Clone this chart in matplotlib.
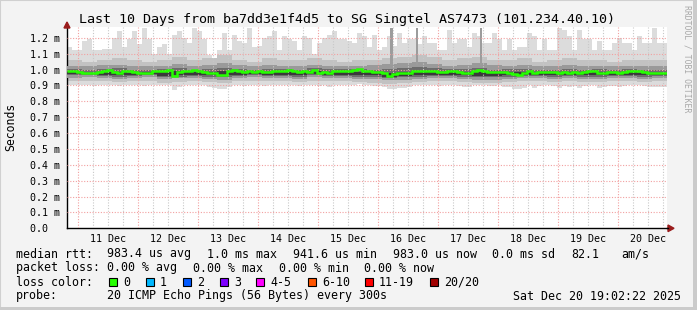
#!/usr/bin/env python
"""SmokePing style 10 day latency graph."""

# Third party modules.
import numpy as np
import matplotlib
matplotlib.use("Agg")
import matplotlib.pyplot as plt
from matplotlib.patches import Polygon, Rectangle
from matplotlib.lines import Line2D

# Globals and constants variables.
W, H = 697, 310
T0 = 19.48  # hours since 10 Dec 00:00 at left edge

title = "Last 10 Days from ba7dd3e1f4d5 to SG Singtel AS7473 (101.234.40.10)"
dayLabels = ["11 Dec", "12 Dec", "13 Dec", "14 Dec", "15 Dec",
             "16 Dec", "17 Dec", "18 Dec", "19 Dec", "20 Dec"]
yTicks = [0.0, 0.1, 0.2, 0.3, 0.4, 0.5, 0.6, 0.7, 0.8, 0.9, 1.0, 1.1, 1.2]

# median rtt in ms, one value every 2 hours
median_ms = [
    0.99, 0.99, 0.985, 0.98, 0.98, 0.975, 0.985, 0.99, 1.0, 0.985, 0.975, 0.99,
    0.99, 0.985, 0.98, 0.98, 0.98, 0.99, 0.99, 0.99, 0.995, 0.96, 0.985, 0.99,
    0.99, 1.0, 0.99, 0.985, 0.98, 0.975, 0.965, 0.965, 0.99, 0.995, 0.99, 0.985,
    0.99, 0.985, 0.99, 0.985, 0.985, 0.99, 0.99, 0.99, 1.0, 0.99, 0.985, 0.99,
    0.985, 1.0, 0.98, 0.985, 0.98, 0.99, 0.99, 0.99, 0.99, 0.995, 1.005, 0.99,
    0.99, 0.985, 0.985, 0.98, 0.96, 0.97, 0.975, 0.975, 0.98, 0.99, 0.99, 0.99,
    0.99, 0.99, 0.985, 0.985, 0.99, 0.99, 0.985, 0.98, 0.98, 0.99, 1.0, 0.99,
    0.985, 0.985, 0.985, 0.985, 0.98, 0.97, 0.965, 0.975, 0.99, 0.975, 0.985, 0.985,
    0.985, 0.985, 0.975, 0.985, 0.98, 0.985, 0.975, 0.985, 0.99, 0.99, 0.975, 0.98,
    0.985, 0.985, 0.98, 0.985, 0.99, 0.99, 0.99, 0.985, 0.98, 0.98, 0.98, 0.98,
]

# highest ping of each 2 hour step
max_ms = [
    1.14, 1.12, 1.12, 1.18, 1.19, 1.12, 1.12, 1.13, 1.13, 1.20, 1.24, 1.14,
    1.19, 1.24, 1.16, 1.26, 1.19, 1.10, 1.14, 1.16, 1.10, 1.22, 1.24, 1.20,
    1.17, 1.26, 1.24, 1.19, 1.09, 1.07, 1.12, 1.23, 1.12, 1.22, 1.18, 1.17,
    1.26, 1.14, 1.15, 1.20, 1.21, 1.24, 1.12, 1.21, 1.19, 1.18, 1.12, 1.21,
    1.20, 1.10, 1.17, 1.20, 1.22, 1.24, 1.19, 1.19, 1.18, 1.165, 1.23, 1.21,
    1.14, 1.22, 1.12, 1.14, 1.21, 1.15, 1.23, 1.17, 1.19, 1.19, 1.16, 1.21,
    1.17, 1.17, 1.12, 1.12, 1.25, 1.17, 1.19, 1.19, 1.14, 1.23, 1.21, 1.17,
    1.17, 1.23, 1.19, 1.12, 1.19, 1.12, 1.14, 1.14, 1.23, 1.21, 1.12, 1.19,
    1.12, 1.12, 1.26, 1.25, 1.21, 1.12, 1.25, 1.19, 1.19, 1.12, 1.18, 1.12,
    1.12, 1.17, 1.20, 1.17, 1.17, 1.12, 1.21, 1.17, 1.17, 1.26, 1.17, 1.17,
]

# lowest ping of each 2 hour step
min_ms = [
    0.905, 0.90, 0.905, 0.90, 0.90, 0.895, 0.90, 0.905, 0.90, 0.90, 0.895, 0.90,
    0.90, 0.905, 0.90, 0.895, 0.90, 0.905, 0.905, 0.90, 0.90, 0.87, 0.89, 0.90,
    0.905, 0.90, 0.905, 0.90, 0.89, 0.885, 0.88, 0.88, 0.89, 0.905, 0.90, 0.895,
    0.90, 0.90, 0.905, 0.895, 0.90, 0.90, 0.905, 0.90, 0.905, 0.90, 0.895, 0.90,
    0.90, 0.905, 0.895, 0.90, 0.89, 0.90, 0.905, 0.905, 0.90, 0.905, 0.91, 0.90,
    0.90, 0.895, 0.895, 0.89, 0.875, 0.88, 0.885, 0.885, 0.89, 0.90, 0.90, 0.905,
    0.905, 0.90, 0.895, 0.90, 0.90, 0.905, 0.895, 0.89, 0.89, 0.90, 0.905, 0.90,
    0.895, 0.895, 0.90, 0.89, 0.89, 0.88, 0.875, 0.885, 0.90, 0.885, 0.895, 0.90,
    0.90, 0.895, 0.885, 0.895, 0.89, 0.895, 0.885, 0.895, 0.90, 0.90, 0.885, 0.89,
    0.895, 0.895, 0.89, 0.895, 0.90, 0.90, 0.90, 0.895, 0.89, 0.89, 0.89, 0.89,
]

# inner smoke bands, one value every 6 hours
hi2_ms = [1.06, 1.05, 1.06, 1.07, 1.06, 1.05, 1.06, 1.08, 1.06, 1.07,
          1.09, 1.06, 1.05, 1.07, 1.06, 1.06, 1.07, 1.06, 1.05, 1.06,
          1.06, 1.07, 1.08, 1.09, 1.08, 1.06, 1.07, 1.08, 1.06, 1.06,
          1.07, 1.05, 1.06, 1.07, 1.06, 1.06, 1.05, 1.06, 1.06, 1.06]
lo2_ms = [0.925, 0.93, 0.925, 0.92, 0.925, 0.93, 0.915, 0.92, 0.925, 0.92,
          0.915, 0.925, 0.93, 0.925, 0.925, 0.92, 0.93, 0.925, 0.925, 0.92,
          0.915, 0.91, 0.915, 0.92, 0.925, 0.925, 0.92, 0.915, 0.915, 0.92,
          0.925, 0.925, 0.92, 0.925, 0.92, 0.92, 0.925, 0.925, 0.92, 0.925]
hi3_ms = [1.025, 1.02, 1.03, 1.03, 1.02, 1.02, 1.025, 1.035, 1.02, 1.03,
          1.04, 1.03, 1.02, 1.03, 1.025, 1.02, 1.03, 1.025, 1.02, 1.025,
          1.03, 1.035, 1.04, 1.045, 1.035, 1.025, 1.03, 1.04, 1.03, 1.025,
          1.03, 1.02, 1.025, 1.03, 1.02, 1.025, 1.02, 1.025, 1.02, 1.02]
lo3_ms = [0.945, 0.95, 0.945, 0.94, 0.945, 0.95, 0.94, 0.945, 0.945, 0.94,
          0.935, 0.945, 0.95, 0.945, 0.945, 0.94, 0.95, 0.945, 0.945, 0.94,
          0.94, 0.935, 0.935, 0.94, 0.945, 0.945, 0.94, 0.935, 0.935, 0.94,
          0.945, 0.945, 0.94, 0.945, 0.94, 0.94, 0.945, 0.945, 0.94, 0.945]
hi4_ms = [1.005, 1.0, 1.005, 1.01, 1.0, 1.0, 1.005, 1.01, 1.0, 1.005,
          1.01, 1.005, 1.0, 1.005, 1.005, 1.0, 1.01, 1.005, 1.005, 1.005,
          1.0, 1.005, 1.01, 1.015, 1.01, 1.005, 1.005, 1.01, 1.0, 1.005,
          1.005, 1.0, 1.0, 1.005, 1.0, 1.005, 1.0, 1.005, 1.0, 1.0]
lo4_ms = [0.965, 0.965, 0.96, 0.955, 0.96, 0.965, 0.95, 0.955, 0.96, 0.955,
          0.955, 0.96, 0.965, 0.96, 0.96, 0.955, 0.965, 0.96, 0.96, 0.955,
          0.955, 0.945, 0.95, 0.955, 0.96, 0.96, 0.955, 0.95, 0.95, 0.955,
          0.96, 0.96, 0.955, 0.96, 0.955, 0.955, 0.96, 0.96, 0.955, 0.96]
hi5_ms = [0.985, 0.98, 0.985, 0.985, 0.98, 0.985, 0.985, 0.99, 0.985, 0.985,
          0.99, 0.985, 0.985, 0.985, 0.985, 0.985, 0.99, 0.985, 0.985, 0.985,
          0.985, 0.98, 0.985, 0.99, 0.985, 0.985, 0.985, 0.985, 0.98, 0.985,
          0.985, 0.98, 0.98, 0.985, 0.98, 0.985, 0.98, 0.985, 0.98, 0.98]
lo5_ms = [0.97, 0.97, 0.968, 0.965, 0.968, 0.97, 0.962, 0.965, 0.968, 0.965,
          0.965, 0.968, 0.97, 0.968, 0.968, 0.965, 0.97, 0.968, 0.968, 0.965,
          0.965, 0.955, 0.96, 0.965, 0.968, 0.968, 0.965, 0.96, 0.96, 0.965,
          0.968, 0.968, 0.965, 0.968, 0.965, 0.965, 0.968, 0.968, 0.965, 0.968]

# single outlier pings (hours since 10 Dec 00:00)
spikeHours = [149.3, 159.6, 185.1]
spikeTop_ms = [1.26, 1.26, 1.26]
spikeBase_ms = [1.03, 1.03, 1.03]

# legend block
statsRows = [
    [(16, "median rtt:"), (107, "983.4 us avg"), (207, "1.0 ms max"),
     (293, "941.6 us min"), (393, "983.0 us now"), (492, "0.0 ms sd"),
     (571, "82.1"), (621, "am/s")],
    [(16, "packet loss:"), (107, "0.00 % avg"), (193, "0.00 % max"),
     (279, "0.00 % min"), (364, "0.00 % now")],
]
lossLabels = ["0", "1", "2", "3", "4-5", "6-10", "11-19", "20/20"]
lossColors = ["#26ff00", "#00b8ff", "#0059ff", "#7e00ff",
              "#ff00ff", "#ff5500", "#ff0000", "#a00000"]
lossBoxX = [109, 146, 183, 220, 256, 308, 365, 430]
probeText = "20 ICMP Echo Pings (56 Bytes) every 300s"
dateText = "Sat Dec 20 19:02:22 2025"


def px(x, y):
    return x / W, 1 - y / H


def run():
    plt.rcParams["font.family"] = "DejaVu Sans Mono"
    fig = plt.figure(figsize=(W / 100, H / 100), dpi=100, facecolor="#f3f3f3")

    # frame
    fig.patches.append(Rectangle((0, 0), 1, 1, transform=fig.transFigure,
                                 fill=False, ec="#d0d0d0", lw=1.5))
    fig.patches.append(Rectangle(px(693, 310), 4 / W, 1, transform=fig.transFigure,
                                 color="#cbcbcb", lw=0))
    fig.patches.append(Rectangle(px(0, 310), 1, 3 / H, transform=fig.transFigure,
                                 color="#cbcbcb", lw=0))

    yTop = 1.268
    ax = fig.add_axes([67 / W, 81.7 / H, 600 / W, yTop * 158.8 / H])
    ax.set_facecolor("white")
    ax.set_xlim(T0, T0 + 240)
    ax.set_ylim(0, yTop)

    edges2 = T0 + 2.0 * np.arange(len(median_ms) + 1)
    edges6 = T0 + 6.0 * np.arange(len(hi2_ms) + 1)

    ax.stairs(max_ms, edges2, baseline=min_ms, fill=True, color="#dcdcdc", lw=0, zorder=1)
    ax.stairs(hi2_ms, edges6, baseline=lo2_ms, fill=True, color="#c2c2c2", lw=0, zorder=2)
    ax.stairs(hi3_ms, edges6, baseline=lo3_ms, fill=True, color="#9a9a9a", lw=0, zorder=3)
    ax.stairs(hi4_ms, edges6, baseline=lo4_ms, fill=True, color="#6c6c6c", lw=0, zorder=4)
    ax.stairs(hi5_ms, edges6, baseline=lo5_ms, fill=True, color="#3a3a3a", lw=0, zorder=4)
    ax.bar(spikeHours, np.array(spikeTop_ms) - np.array(spikeBase_ms),
           bottom=spikeBase_ms, width=0.9, color="#9c9c9c", lw=0, zorder=4)

    # grid
    dot = (0, (1, 1.5))
    for h in np.arange(0, 270, 6):
        if T0 < h < T0 + 240:
            if h % 24 == 0:
                ax.axvline(h, color="#f2a0a0", lw=0.8, ls=dot, zorder=5)
            else:
                ax.axvline(h, color="#c8c8c8", lw=0.8, ls=dot, zorder=5)
    for v in yTicks[1:]:
        ax.axhline(v, color="#f2a0a0", lw=0.8, ls=dot, zorder=5)

    ax.stairs(median_ms, edges2, baseline=None, color="#26ff00", lw=1.8, zorder=6)

    for side in ("top", "right"):
        ax.spines[side].set_visible(False)
    ax.spines["left"].set_linewidth(1.0)
    ax.spines["bottom"].set_linewidth(1.0)

    ax.set_xticks([36 + 24 * k for k in range(len(dayLabels))])
    ax.set_xticklabels(dayLabels)
    ax.set_yticks(yTicks)
    ax.set_yticklabels(["0.0  "] + ["%.1f m" % v for v in yTicks[1:]])
    ax.tick_params(axis="x", length=0, pad=4, labelsize=7.2)
    ax.tick_params(axis="y", length=0, pad=5, labelsize=7.2)

    # axis arrows
    fig.patches.append(Polygon([px(64, 28), px(70, 28), px(67, 22)], closed=True,
                               transform=fig.transFigure, color="#9a1c1c"))
    fig.lines.append(Line2D(*zip(px(667, 228.3), px(668, 228.3)),
                            transform=fig.transFigure, color="black", lw=1))
    fig.patches.append(Polygon([px(668, 225), px(668, 231.6), px(674, 228.3)], closed=True,
                               transform=fig.transFigure, color="#9a1c1c"))

    fig.text(*px(347, 19), title, ha="center", va="center", fontsize=9.6)
    fig.text(*px(11, 127), "Seconds", rotation=90, ha="center", va="center", fontsize=8.3)
    fig.text(*px(687, 59), "RRDTOOL / TOBI OETIKER", rotation=-90, ha="center",
             va="center", fontsize=5.9, color="#a8a8a8")

    # legend
    fs = 8.4
    for row, y in zip(statsRows, (254, 268)):
        for x, s in row:
            fig.text(*px(x, y), s, ha="left", va="center", fontsize=fs)
    fig.text(*px(16, 282), "loss color:", ha="left", va="center", fontsize=fs)
    for x, label, color in zip(lossBoxX, lossLabels, lossColors):
        fig.patches.append(Rectangle(px(x, 286), 8 / W, 8 / H, transform=fig.transFigure,
                                     fc=color, ec="black", lw=0.8))
        fig.text(*px(x + 14, 282), label, ha="left", va="center", fontsize=fs)
    fig.text(*px(16, 296), "probe:", ha="left", va="center", fontsize=fs)
    fig.text(*px(107, 296), probeText, ha="left", va="center", fontsize=fs)
    fig.text(*px(681, 296), dateText, ha="right", va="center", fontsize=fs)

    fig.savefig("out.png", dpi=100, facecolor=fig.get_facecolor())


if __name__ == '__main__':
    run()
